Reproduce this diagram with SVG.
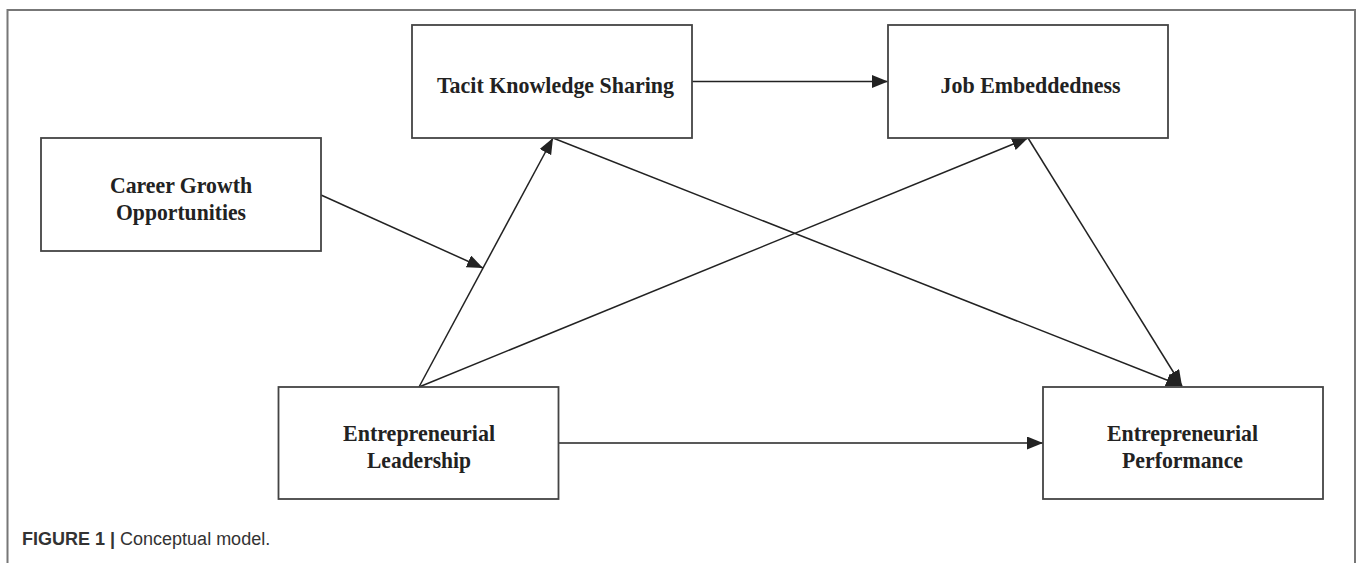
<svg xmlns="http://www.w3.org/2000/svg" width="1358" height="563" viewBox="0 0 1358 563">
<style>
.box{fill:#fff;stroke:#444;stroke-width:1.8}
.lbl{font-family:"Liberation Serif","Times New Roman",serif;font-weight:bold;font-size:23px;fill:#222;text-anchor:middle}
.edge{fill:none;stroke:#222;stroke-width:1.5;marker-end:url(#ah)}
.cap{font-family:"Liberation Sans",Arial,sans-serif;font-size:18px;fill:#333}
</style>
<defs>
<marker id="ah" markerUnits="userSpaceOnUse" markerWidth="18" markerHeight="14" refX="16" refY="6.5" orient="auto">
<path d="M0,0 L16,6.5 L0,13 z" fill="#222"/>
</marker>
</defs>
<rect width="1358" height="563" fill="#fff"/>
<path d="M7.5,563 V10 H1355 V563" fill="none" stroke="#777" stroke-width="2"/>
<g id="connectors">
<line class="edge" x1="692" y1="81.5" x2="888" y2="81.5"/>
<line class="edge" x1="419" y1="387" x2="553" y2="138"/>
<line class="edge" x1="419" y1="387" x2="1028" y2="138"/>
<line class="edge" x1="321" y1="195" x2="483" y2="268"/>
<line class="edge" x1="553" y1="138" x2="1182" y2="386"/>
<line class="edge" x1="1028" y1="138" x2="1182" y2="386"/>
<line class="edge" x1="558" y1="443" x2="1043" y2="443"/>
</g>
<g id="tacit">
<rect class="box" x="412" y="25" width="280" height="113"/>
<text class="lbl" x="555.5" y="93" textLength="237" lengthAdjust="spacingAndGlyphs">Tacit Knowledge Sharing</text>
</g>
<g id="job">
<rect class="box" x="888" y="25" width="280" height="113"/>
<text class="lbl" x="1030.5" y="92.5" textLength="180" lengthAdjust="spacingAndGlyphs">Job Embeddedness</text>
</g>
<g id="career">
<rect class="box" x="41" y="138" width="280" height="113"/>
<text class="lbl" x="181" y="192.5" textLength="142" lengthAdjust="spacingAndGlyphs">Career Growth</text>
<text class="lbl" x="181" y="220" textLength="130" lengthAdjust="spacingAndGlyphs">Opportunities</text>
</g>
<g id="leadership">
<rect class="box" x="278.5" y="387" width="280" height="112"/>
<text class="lbl" x="419" y="441" textLength="152" lengthAdjust="spacingAndGlyphs">Entrepreneurial</text>
<text class="lbl" x="419" y="468" textLength="104" lengthAdjust="spacingAndGlyphs">Leadership</text>
</g>
<g id="performance">
<rect class="box" x="1043" y="387" width="280" height="112"/>
<text class="lbl" x="1182.5" y="441" textLength="151" lengthAdjust="spacingAndGlyphs">Entrepreneurial</text>
<text class="lbl" x="1182.5" y="468" textLength="121" lengthAdjust="spacingAndGlyphs">Performance</text>
</g>
<text class="cap" x="22" y="545"><tspan font-weight="bold">FIGURE 1 | </tspan>Conceptual model.</text>
</svg>
